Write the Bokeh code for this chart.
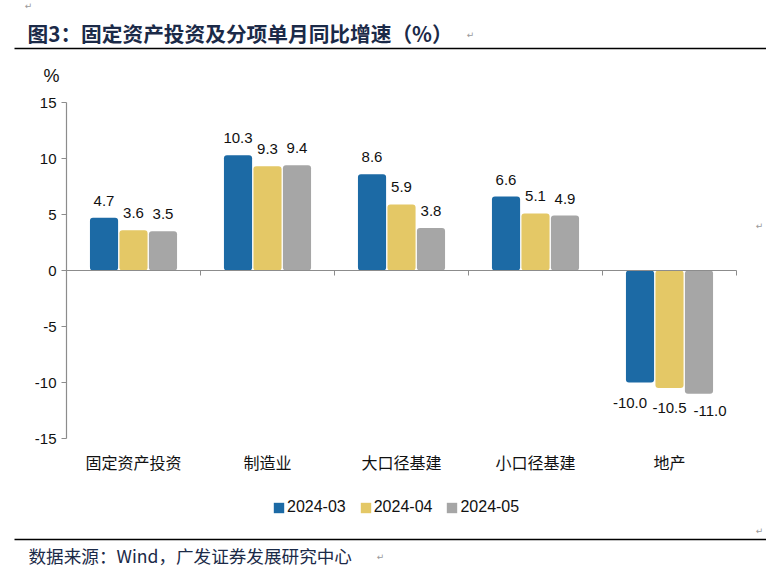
from bokeh.plotting import figure
from bokeh.models import (FixedTicker, LinearAxis, Range1d, Legend, LegendItem, Label, BoxAnnotation)
from bokeh.core.properties import value
from bokeh.embed import file_html
from bokeh.resources import INLINE

categories = ["固定资产投资", "制造业", "大口径基建", "小口径基建", "地产"]
series_names = ["2024-03", "2024-04", "2024-05"]
s_03 = [4.7, 10.3, 8.6, 6.6, -10.0]
s_04 = [3.6, 9.3, 5.9, 5.1, -10.5]
s_05 = [3.5, 9.4, 3.8, 4.9, -11.0]
y_ticks = [-15, -10, -5, 0, 5, 10, 15]
Y_MIN, Y_MAX = -15, 15

colors = ["#1c6aa5", "#e4c866", "#a6a6a6"]
offsets = [-0.22, 0.0, 0.22]
neg_label_dx = [-10, 0, 11]
neg_label_dy = [15, 15, 12]
NUM = "Liberation Sans"
CJK = "Noto Sans CJK SC"
TXT = "#111111"
NAVY = "#1b2a48"
AX = "#8c8c8c"

# page layout (pixels)
W, H = 766, 580
PLOT_L, PLOT_R, PLOT_T, PLOT_B = 66, 736, 102, 438
px_cat = (PLOT_R - PLOT_L) / len(categories)
px_unit = (PLOT_B - PLOT_T) / (Y_MAX - Y_MIN)
x_lo = -0.5 - PLOT_L / px_cat
x_hi = -0.5 + (W - PLOT_L) / px_cat
y_hi = Y_MAX + PLOT_T / px_unit
y_lo = Y_MAX - (H - PLOT_T) / px_unit

p = figure(width=W, height=H, output_backend="svg", toolbar_location=None,
           x_range=Range1d(x_lo, x_hi), y_range=Range1d(y_lo, y_hi),
           x_axis_location=None, y_axis_location=None,
           min_border=0, min_border_left=0, min_border_right=0,
           min_border_top=0, min_border_bottom=0)
p.outline_line_color = None
p.grid.visible = False

# y axis
ya = LinearAxis(fixed_location=-0.5, bounds=(Y_MIN, Y_MAX), ticker=FixedTicker(ticks=y_ticks),
                major_label_overrides={t: str(t) for t in y_ticks},
                axis_line_color=AX, axis_line_width=1.2, major_tick_line_color=AX,
                major_tick_out=5, major_tick_in=0, minor_tick_line_color=None,
                major_label_text_font=NUM, major_label_text_font_size="15px",
                major_label_text_color=TXT, major_label_standoff=5)
p.add_layout(ya, "left")

# category labels at the bottom of the plot area
xa = LinearAxis(fixed_location=Y_MIN, ticker=FixedTicker(ticks=list(range(len(categories)))),
                major_label_overrides={i: c for i, c in enumerate(categories)},
                axis_line_color=None, major_tick_line_color=None, minor_tick_line_color=None,
                major_label_text_font=CJK, major_label_text_font_size="16px",
                major_label_text_color=TXT, major_label_standoff=5)
p.add_layout(xa, "below")

# zero line with category boundary ticks
zax = LinearAxis(fixed_location=0, bounds=(-0.5, len(categories) - 0.5),
                 ticker=FixedTicker(ticks=[], minor_ticks=[i - 0.5 for i in range(len(categories) + 1)]),
                 axis_line_color=AX, axis_line_width=1.2,
                 major_tick_line_color=None, minor_tick_line_color=AX,
                 minor_tick_out=5, minor_tick_in=0)
p.add_layout(zax, "below")

items = []
for name, vals, col, off, dx, dy in zip(series_names, [s_03, s_04, s_05], colors, offsets,
                                        neg_label_dx, neg_label_dy):
    xs = [i + off for i in range(len(categories))]
    r = p.vbar(x=xs, top=vals, bottom=0, width=0.21, fill_color=col, line_color=None, border_radius=3)
    items.append(LegendItem(label=name, renderers=[r]))
    pos = [(x, v) for x, v in zip(xs, vals) if v >= 0]
    neg = [(x, v) for x, v in zip(xs, vals) if v < 0]
    if pos:
        p.text(x=[a for a, b in pos], y=[b for a, b in pos], text=[f"{b:.1f}" for a, b in pos],
               text_align="center", text_baseline="bottom", y_offset=-12,
               text_font=value(NUM), text_font_size="15px", text_color=TXT)
    if neg:
        p.text(x=[a for a, b in neg], y=[b for a, b in neg], text=[f"{b:.1f}" for a, b in neg],
               text_align="center", text_baseline="top", y_offset=dy, x_offset=dx,
               text_font=value(NUM), text_font_size="15px", text_color=TXT)

legend = Legend(items=items, orientation="horizontal", location=(272, H - 507 - 9),
                glyph_width=13, glyph_height=13, label_standoff=2, spacing=13,
                label_text_font=NUM, label_text_font_size="16px", label_text_color=TXT,
                label_height=15, border_line_color=None, background_fill_alpha=0,
                padding=0, margin=0)
p.add_layout(legend, "center")


# page texts: screen units measured from the canvas' bottom-left
def lab(text, x, y, size, font=CJK, color=TXT, style="normal", align="left"):
    p.add_layout(Label(x=x, y=H - y, x_units="screen", y_units="screen", text=text,
                       text_font=font, text_font_size=size, text_color=color,
                       text_font_style=style, text_align=align, text_baseline="middle"))


def rule(y):
    p.add_layout(BoxAnnotation(left=14, right=W, bottom=H - y - 0.8, top=H - y + 0.8,
                               left_units="screen", right_units="screen",
                               bottom_units="screen", top_units="screen",
                               fill_color="#000000", fill_alpha=1, line_color=None))


lab("图3：固定资产投资及分项单月同比增速（%）", 27, 32, "20.7px", color=NAVY, style="bold")
rule(48)
lab("%", 51, 75, "18px", font=NUM, align="center")
lab("数据来源：Wind，广发证券发展研究中心", 28, 555, "17.6px", color=NAVY)
rule(539)
for (tx, ty) in [(28, 5), (470, 34), (759, 225), (759, 530), (380, 556)]:
    lab("↵", tx, ty, "9px", font="DejaVu Sans", color="#999999", align="center")

open("out.html", "w").write(file_html(p, INLINE))
